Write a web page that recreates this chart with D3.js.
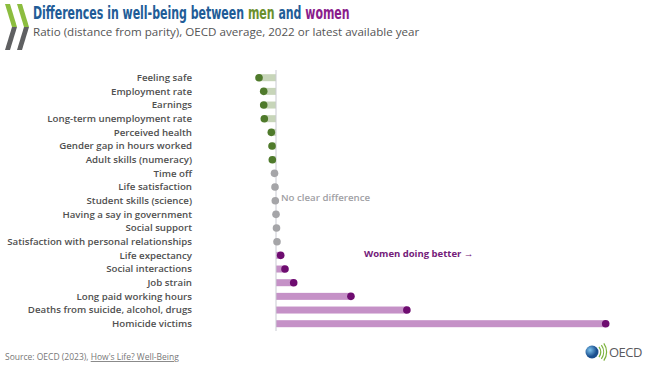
<!DOCTYPE html>
<html>
<head>
<meta charset="utf-8">
<script src="https://cdn.jsdelivr.net/npm/d3@7"></script>
<style>
  body { margin: 0; background: #fff; }
  svg { display: block; font-family: "Open Sans", "Noto Sans", sans-serif; }
</style>
</head>
<body>
<div id="chart"></div>
<script>
let width = 650,
    height = 366;

// data (ratio, distance from parity)
const indicators = [
  "Feeling safe", "Employment rate", "Earnings", "Long-term unemployment rate",
  "Perceived health", "Gender gap in hours worked", "Adult skills (numeracy)",
  "Time off", "Life satisfaction", "Student skills (science)",
  "Having a say in government", "Social support",
  "Satisfaction with personal relationships", "Life expectancy",
  "Social interactions", "Job strain", "Long paid working hours",
  "Deaths from suicide, alcohol, drugs", "Homicide victims"
];
const ratios = [
  -0.17, -0.123, -0.123, -0.117, -0.047, -0.04, -0.037,
  -0.015, -0.01, -0.007, 0, 0.005, 0.01,
  0.047, 0.09, 0.177, 0.75, 1.31, 3.3
];
// "men" = men doing better, "none" = no clear difference, "women" = women doing better
const groups = [
  "men", "men", "men", "men", "men", "men", "men",
  "none", "none", "none", "none", "none", "none",
  "women", "women", "women", "women", "women", "women"
];

const data = indicators.map((d, i) => ({ name: d, value: ratios[i], group: groups[i] }));

const dotColor = { men: "#4f7a2b", none: "#a5a5a8", women: "#6e0c70" };
const barColor = { men: "#c7d5b9", none: "none", women: "#c591c7" };

const svg = d3.select("#chart")
  .append("svg")
  .attr("width", width)
  .attr("height", height)
  .attr("viewBox", [0, 0, width, height]);

let x = d3.scaleLinear()
  .domain([0, 3.3])
  .range([276, 605.7]);

let y = d3.scalePoint()
  .domain(indicators)
  .range([77.7, 323.7]);

// OECD chevrons, top left
const logo = svg.append("g");
[5, 17].forEach(dx => {
  logo.append("path")
    .attr("d", `M${dx},4 L${dx + 5},4 L${dx + 12},27 L${dx + 7},27 Z`)
    .attr("fill", "#8cbd3f");
  logo.append("path")
    .attr("d", `M${dx + 7},27 L${dx + 12},27 L${dx + 5},50 L${dx},50 Z`)
    .attr("fill", "#5f6062");
});

// title, squeezed horizontally to look like the condensed face
const title = svg.append("text")
  .style("font-family", "'DejaVu Sans Condensed', 'DejaVu Sans', sans-serif")
  .style("font-weight", "bold")
  .style("font-size", "17px")
  .attr("fill", "#215c97");
title.append("tspan").text("Differences in well-being between ");
title.append("tspan").attr("fill", "#6b8f2c").text("men");
title.append("tspan").text(" and ");
title.append("tspan").attr("fill", "#8a1d8c").text("women");
const tw = title.node().getComputedTextLength();
title.attr("transform", `translate(33,19) scale(${317 / tw},1)`);

svg.append("text")
  .attr("x", 33)
  .attr("y", 36)
  .style("font-size", "11.6px")
  .attr("fill", "#555")
  .text("Ratio (distance from parity), OECD average, 2022 or latest available year");

// bars
svg.append("g")
  .selectAll("rect")
  .data(data.filter(d => d.group !== "none"))
  .join("rect")
    .attr("x", d => Math.min(x(d.value), x(0)))
    .attr("y", d => y(d.name) - 3.5)
    .attr("width", d => Math.abs(x(d.value) - x(0)))
    .attr("height", 7)
    .attr("fill", d => barColor[d.group]);

// parity line
svg.append("line")
  .attr("x1", x(0)).attr("x2", x(0))
  .attr("y1", 70).attr("y2", 331)
  .attr("stroke", "#c9cad2")
  .attr("stroke-width", 1);

// dots
svg.append("g")
  .selectAll("circle")
  .data(data)
  .join("circle")
    .attr("cx", d => x(d.value))
    .attr("cy", d => y(d.name))
    .attr("r", 3.8)
    .attr("fill", d => dotColor[d.group]);

// labels
svg.append("g")
  .selectAll("text")
  .data(data)
  .join("text")
    .attr("x", 192)
    .attr("y", d => y(d.name))
    .attr("dy", "0.35em")
    .attr("text-anchor", "end")
    .style("font-size", "9.7px")
    .style("font-weight", 600)
    .attr("fill", "#505050")
    .text(d => d.name);

// annotations
svg.append("text")
  .attr("x", x(0) + 5)
  .attr("y", y("Student skills (science)") - 3)
  .attr("dy", "0.35em")
  .style("font-size", "9.7px")
  .style("font-weight", 600)
  .attr("fill", "#a0a0a4")
  .text("No clear difference");

svg.append("text")
  .attr("x", 364)
  .attr("y", y("Life expectancy") - 1.5)
  .attr("dy", "0.35em")
  .style("font-size", "9.5px")
  .style("font-weight", 700)
  .attr("fill", "#74207a")
  .text("Women doing better \u2192");

// source
const src = svg.append("text")
  .attr("x", 5)
  .attr("y", 360)
  .style("font-size", "8.5px")
  .attr("fill", "#777");
src.append("tspan").text("Source: OECD (2023), ");
src.append("tspan").attr("text-decoration", "underline").text("How's Life? Well-Being");

// OECD logo, bottom right
const grad = svg.append("defs").append("radialGradient")
  .attr("id", "globe").attr("cx", "35%").attr("cy", "35%");
grad.append("stop").attr("offset", "0%").attr("stop-color", "#7fc4ee");
grad.append("stop").attr("offset", "100%").attr("stop-color", "#1a4f8f");
svg.append("circle")
  .attr("cx", 592).attr("cy", 352).attr("r", 6.5)
  .attr("fill", "url(#globe)");
[0, 3, 6].forEach(k => {
  svg.append("path")
    .attr("d", d3.arc()({ innerRadius: 8 + k, outerRadius: 9.2 + k, startAngle: Math.PI * 0.3, endAngle: Math.PI * 0.7 }))
    .attr("transform", "translate(592,352)")
    .attr("fill", "#7bb23a");
});
svg.append("text")
  .attr("x", 609)
  .attr("y", 357)
  .style("font-size", "13px")
  .style("letter-spacing", "-0.5px")
  .attr("fill", "#5a5a5e")
  .text("OECD");
</script>
</body>
</html>
